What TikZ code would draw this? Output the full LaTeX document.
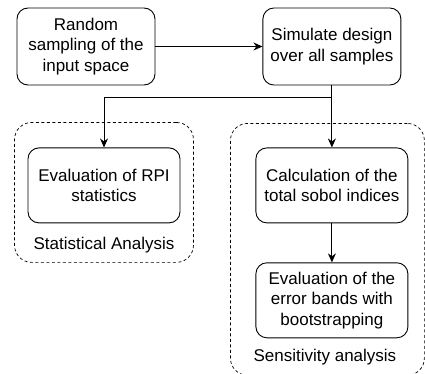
\documentclass[tikz,border=0pt]{standalone}
\usepackage{fontspec}
\setmainfont{Liberation Sans}
\usetikzlibrary{arrows.meta,positioning,fit,calc}

\begin{document}
\begin{tikzpicture}[
  x=1pt, y=1pt,
  font=\fontsize{17}{20.5}\selectfont,
  proc/.style={rectangle, rounded corners=11pt, draw=black, line width=0.9pt,
    align=center, minimum width=138pt, minimum height=77pt, inner sep=2pt},
  wide/.style={proc, minimum width=152pt, minimum height=75pt},
  group/.style={rectangle, rounded corners=17pt, draw=black, line width=0.7pt,
    dash pattern=on 3pt off 2.5pt, inner sep=0pt},
  flow/.style={-{Stealth[length=9pt,width=8pt]}, line width=0.9pt},
  node distance=62pt and 107pt,
]
\useasboundingbox (0,0) rectangle (425,-374);
\node[proc] (sample) at (86,-46.5) {Random\\sampling of the\\input space};
\node[proc, right=of sample] (sim) {Simulate design\\over all samples};
\node[wide, below=of sim] (sobol) {Calculation of the\\total sobol indices};
\node[wide, below=39pt of sobol] (bands) {Evaluation of the\\error bands with\\bootstrapping};
\node[wide, left=75pt of sobol] (rpi) {Evaluation of RPI\\statistics};
\node[inner sep=0pt, below=14pt of rpi] (statlbl) {Statistical Analysis};
\node[inner sep=0pt, below=11pt of bands, xshift=-7pt] (senslbl) {Sensitivity analysis};
\node[group, fit={($(rpi.north west)+(-13,25)$) ($(rpi.south east)+(13,-39)$)}] (stat) {};
\node[group, fit={($(sobol.north west)+(-25,24)$) ($(bands.south east)+(16,-37)$)}] (sens) {};
\coordinate (split) at ($(sim.south)+(0,-12)$);
\draw[flow] (sample) -- (sim);
\draw[flow] (sim) -- (sobol);
\draw[flow] (split) -| (rpi.north);
\draw[flow] (sobol) -- (bands);
\end{tikzpicture}
\end{document}
